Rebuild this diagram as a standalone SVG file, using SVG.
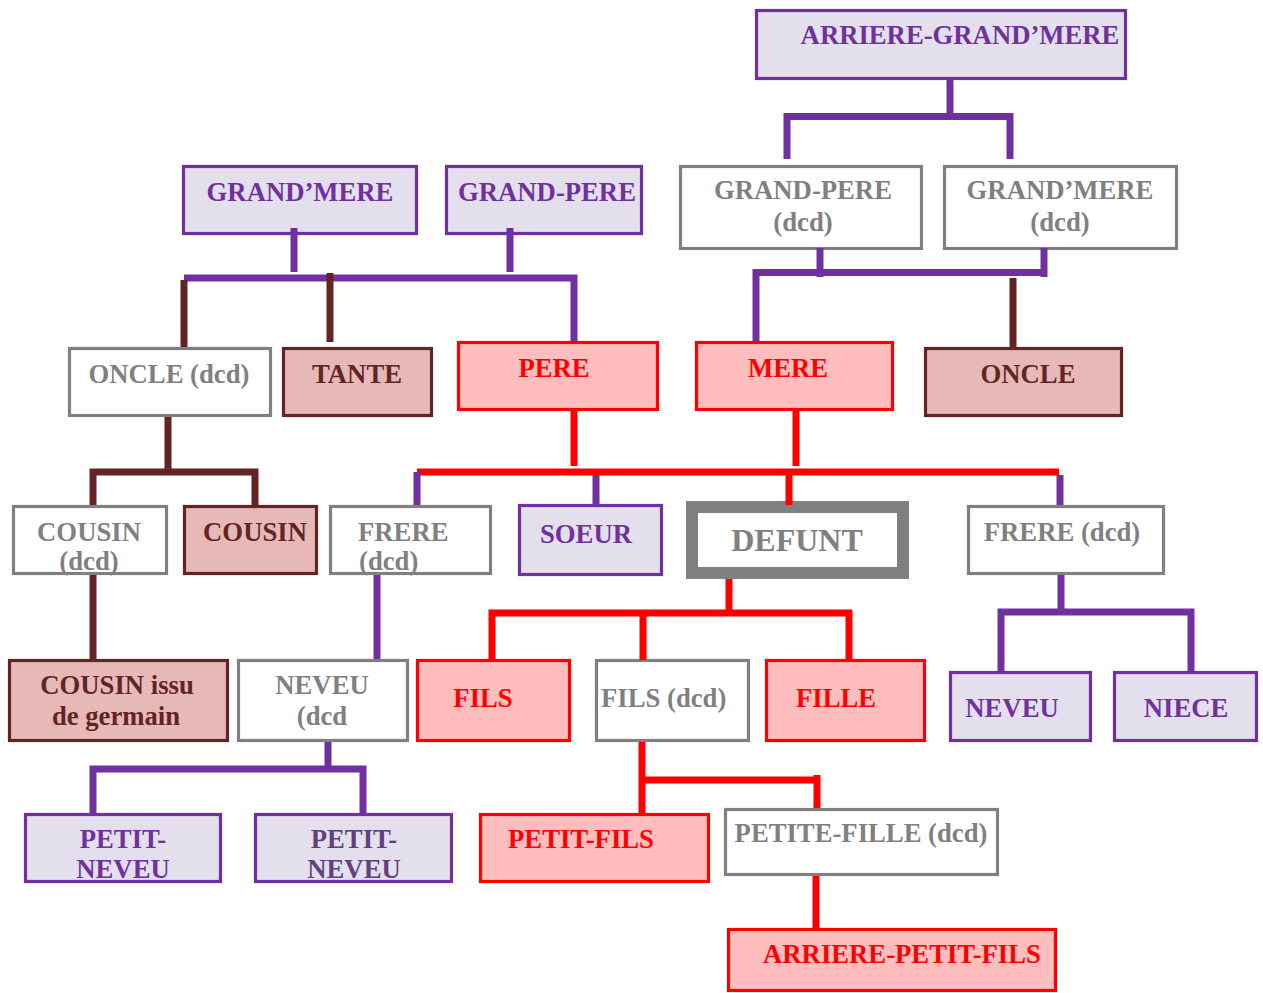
<svg xmlns="http://www.w3.org/2000/svg" width="1263" height="993" viewBox="0 0 1263 993">
  <style>
    text { font-family: "Liberation Serif", "Times New Roman", serif; font-weight: bold; font-size: 26.7px; text-anchor: middle; }
    .box { stroke-width: 3.2; }
    .purple { fill: #E4DFEC; stroke: #7030A0; }
    .grey { fill: #FFFFFF; stroke: #808080; }
    .brown { fill: #E6B8B7; stroke: #632523; }
    .red { fill: #FFBDBD; stroke: #FF0000; }
    .t-purple { fill: #7030A0; }
    .t-purple2 { fill: #604080; }
    .t-grey { fill: #808080; }
    .t-brown { fill: #632523; }
    .t-red { fill: #FF0000; }
    .ln { fill: none; stroke-width: 7; }
    .l-purple { stroke: #7030A0; }
    .l-red { stroke: #FF0000; }
    .l-brown { stroke: #632523; }
  </style>

  <!-- generation of great-grandparents -->
  <g id="arriere-grand-mere">
    <rect class="box purple" x="756.5" y="10.5" width="369" height="68"/>
    <text class="t-purple" x="960" y="44">ARRIERE-GRAND’MERE</text>
  </g>

  <!-- grandparents -->
  <g id="grand-mere">
    <rect class="box purple" x="183.5" y="166.5" width="233" height="67"/>
    <text class="t-purple" x="300" y="201">GRAND’MERE</text>
  </g>
  <g id="grand-pere">
    <rect class="box purple" x="446.5" y="166.5" width="195" height="67"/>
    <text class="t-purple" x="547" y="201">GRAND-PERE</text>
  </g>
  <g id="grand-pere-dcd">
    <rect class="box grey" x="680.5" y="166.5" width="241" height="82"/>
    <text class="t-grey" x="803" y="199">GRAND-PERE</text>
    <text class="t-grey" x="803" y="231">(dcd)</text>
  </g>
  <g id="grand-mere-dcd">
    <rect class="box grey" x="944.5" y="166.5" width="232" height="82"/>
    <text class="t-grey" x="1060" y="199">GRAND’MERE</text>
    <text class="t-grey" x="1060" y="231">(dcd)</text>
  </g>

  <!-- parents, uncles, aunt -->
  <g id="oncle-dcd">
    <rect class="box grey" x="69.5" y="348.5" width="201" height="67"/>
    <text class="t-grey" x="169" y="383">ONCLE (dcd)</text>
  </g>
  <g id="tante">
    <rect class="box brown" x="283.5" y="348.5" width="148" height="67"/>
    <text class="t-brown" x="357" y="383">TANTE</text>
  </g>
  <g id="pere">
    <rect class="box red" x="458.5" y="342.5" width="199" height="67"/>
    <text class="t-red" x="554" y="377">PERE</text>
  </g>
  <g id="mere">
    <rect class="box red" x="696.5" y="342.5" width="196" height="67"/>
    <text class="t-red" x="788" y="377">MERE</text>
  </g>
  <g id="oncle">
    <rect class="box brown" x="925.5" y="348.5" width="196" height="67"/>
    <text class="t-brown" x="1028" y="383">ONCLE</text>
  </g>

  <!-- deceased's generation -->
  <g id="cousin-dcd">
    <rect class="box grey" x="13.5" y="506.5" width="153" height="67"/>
    <text class="t-grey" x="89" y="541">COUSIN</text>
    <text class="t-grey" x="89" y="570">(dcd)</text>
  </g>
  <g id="cousin">
    <rect class="box brown" x="184.5" y="506.5" width="132" height="67"/>
    <text class="t-brown" x="255" y="541">COUSIN</text>
  </g>
  <g id="frere-dcd-1">
    <rect class="box grey" x="330.5" y="506.5" width="160" height="67"/>
    <text class="t-grey" x="358" y="541" style="text-anchor:start">FRERE</text>
    <text class="t-grey" x="359" y="570" style="text-anchor:start">(dcd)</text>
  </g>
  <g id="soeur">
    <rect class="box purple" x="519.5" y="505.5" width="142" height="69"/>
    <text class="t-purple" x="586" y="543">SOEUR</text>
  </g>
  <g id="defunt">
    <rect fill="#FFFFFF" stroke="#808080" stroke-width="12" x="692" y="507" width="211" height="66"/>
    <text class="t-grey" x="797" y="551" style="font-size:32px">DEFUNT</text>
  </g>
  <g id="frere-dcd-2">
    <rect class="box grey" x="968.5" y="506.5" width="195" height="67"/>
    <text class="t-grey" x="1062" y="541">FRERE (dcd)</text>
  </g>

  <!-- children generation -->
  <g id="cousin-issu-de-germain">
    <rect class="box brown" x="9.5" y="660.5" width="218" height="80"/>
    <text class="t-brown" x="117" y="694">COUSIN issu</text>
    <text class="t-brown" x="116" y="725">de germain</text>
  </g>
  <g id="neveu-dcd">
    <rect class="box grey" x="238.5" y="660.5" width="169" height="80"/>
    <text class="t-grey" x="322" y="694">NEVEU</text>
    <text class="t-grey" x="322" y="725">(dcd</text>
  </g>
  <g id="fils">
    <rect class="box red" x="417.5" y="660.5" width="152" height="80"/>
    <text class="t-red" x="483" y="707">FILS</text>
  </g>
  <g id="fils-dcd">
    <rect class="box grey" x="596.5" y="660.5" width="152" height="80"/>
    <text class="t-grey" x="601" y="707" style="text-anchor:start">FILS (dcd)</text>
  </g>
  <g id="fille">
    <rect class="box red" x="766.5" y="660.5" width="158" height="80"/>
    <text class="t-red" x="836" y="707">FILLE</text>
  </g>
  <g id="neveu">
    <rect class="box purple" x="950.5" y="672.5" width="140" height="68"/>
    <text class="t-purple" x="1012" y="717">NEVEU</text>
  </g>
  <g id="niece">
    <rect class="box purple" x="1114.5" y="672.5" width="142" height="68"/>
    <text class="t-purple" x="1186" y="717">NIECE</text>
  </g>

  <!-- grandchildren generation -->
  <g id="petit-neveu-1">
    <rect class="box purple" x="25.5" y="814.5" width="195" height="67"/>
    <text class="t-purple" x="123" y="848">PETIT-</text>
    <text class="t-purple" x="123" y="878">NEVEU</text>
  </g>
  <g id="petit-neveu-2">
    <rect class="box purple" x="255.5" y="814.5" width="196" height="67"/>
    <text class="t-purple2" x="354" y="848">PETIT-</text>
    <text class="t-purple2" x="354" y="878">NEVEU</text>
  </g>
  <g id="petit-fils">
    <rect class="box red" x="480.5" y="814.5" width="228" height="67"/>
    <text class="t-red" x="581" y="848">PETIT-FILS</text>
  </g>
  <g id="petite-fille-dcd">
    <rect class="box grey" x="725.5" y="809.5" width="272" height="65"/>
    <text class="t-grey" x="861" y="842">PETITE-FILLE (dcd)</text>
  </g>
  <g id="arriere-petit-fils">
    <rect class="box red" x="728.5" y="929.5" width="327" height="61"/>
    <text class="t-red" x="902" y="963">ARRIERE-PETIT-FILS</text>
  </g>

  <!-- connectors -->
  <g id="connectors">
    <!-- great-grandmother to her children -->
    <path class="ln l-purple" d="M950,78 V120 M787,159 V116.5 H1010 V159"/>
    <!-- maternal grandparents to MERE -->
    <path class="ln l-purple" d="M820,248 V277 M1044,248 V277 M756,341 V272.5 H1047"/>
    <path class="ln l-brown" d="M1013,278 V347"/>
    <!-- paternal grandparents -->
    <path class="ln l-purple" d="M294,228 V272 M510,228 V272 M184,278 H574 V341"/>
    <path class="ln l-brown" d="M184,280 V347 M330,273 V342"/>
    <!-- uncle (dcd) to cousins -->
    <path class="ln l-brown" d="M168,417 V472 M93,505 V472 H255 V505"/>
    <!-- parents to siblings and deceased -->
    <path class="ln l-red" d="M574,411 V466 M796,411 V466 M417,472 H1059"/>
    <path class="ln l-purple" d="M417,472 V505 M596,475 V504 M1060,475 V505"/>
    <path class="ln l-red" d="M789,475 V505"/>
    <!-- cousin (dcd) to second cousin -->
    <path class="ln l-brown" d="M93,575 V659"/>
    <!-- brother (dcd) to nephew (dcd) and his children -->
    <path class="ln l-purple" d="M377,575 V659 M328,742 V769 M93,813 V769 H363 V813"/>
    <!-- deceased to children -->
    <path class="ln l-red" d="M729,579 V613 M492,660 V613 H849 V660 M643,613 V660"/>
    <!-- son (dcd) to grandchildren -->
    <path class="ln l-red" d="M642,742 V813 M642,780 H817 M817,775 V808"/>
    <path class="ln l-red" d="M816,876 V929"/>
    <!-- brother (dcd) to nephew and niece -->
    <path class="ln l-purple" d="M1061,575 V612 M1001,671 V612 H1191 V671"/>
  </g>
</svg>
